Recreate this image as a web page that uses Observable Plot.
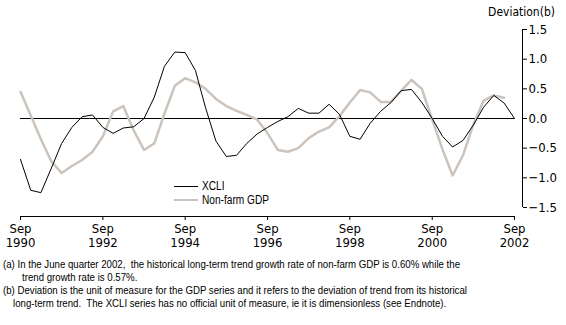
<!DOCTYPE html>
<html>
<head>
<meta charset="utf-8">
<script src="https://cdn.jsdelivr.net/npm/d3@7"></script>
<script src="https://cdn.jsdelivr.net/npm/@observablehq/plot@0.6"></script>
<style>
  html, body { margin: 0; padding: 0; background: #fff; }
  #wrap { position: relative; width: 566px; height: 325px; overflow: hidden; }
  #chart { position: absolute; left: 0; top: 0; }
  .ttl { position: absolute; top: 5px; right: 11px; font: 12px "DejaVu Sans Condensed", "DejaVu Sans", sans-serif; font-stretch: condensed; color: #000; }
  .legend { position: absolute; left: 174px; font: 12px "Liberation Sans", Arial, sans-serif; color: #000; display: flex; align-items: center; white-space: nowrap; }
  .legend .sw { width: 24px; margin-right: 4px; }
  .legend .lt { display: inline-block; transform-origin: 0 50%; }
  .note { position: absolute; left: 3px; font: 11px "Liberation Sans", Arial, sans-serif; color: #000; white-space: nowrap; line-height: 13px; transform-origin: 0 0; }
</style>
</head>
<body>
<div id="wrap">
  <div id="chart"></div>
</div>
<script>
// ---- data (quarterly, Sep 1990 .. Sep 2002) ----
const startQuarter = "1990-09-01";
const xcli = [
  -0.69, -1.21, -1.25, -0.84, -0.42, -0.15, 0.03, 0.06,
  -0.15, -0.25, -0.16, -0.14, 0.00, 0.36, 0.88, 1.12,
  1.11, 0.81, 0.18, -0.38, -0.64, -0.62, -0.42, -0.26,
  -0.15, -0.05, 0.03, 0.17, 0.09, 0.09, 0.24, 0.07,
  -0.30, -0.35, -0.08, 0.12, 0.27, 0.47, 0.49, 0.27,
  0.00, -0.30, -0.48, -0.37, -0.11, 0.19, 0.39, 0.26,
  0.00
];
const nonFarmGdp = [
  0.45, 0.05, -0.35, -0.72, -0.92, -0.80, -0.70, -0.56,
  -0.30, 0.12, 0.21, -0.20, -0.53, -0.42, 0.08, 0.55,
  0.68, 0.61, 0.50, 0.33, 0.21, 0.13, 0.06, -0.02,
  -0.25, -0.53, -0.56, -0.50, -0.33, -0.22, -0.15, 0.04,
  0.27, 0.48, 0.44, 0.28, 0.28, 0.47, 0.65, 0.50,
  -0.02, -0.52, -0.96, -0.62, -0.10, 0.30, 0.39, 0.35
];
const xTickYears = [1990, 1992, 1994, 1996, 1998, 2000, 2002];
const yTicks = [-1.5, -1.0, -0.5, 0.0, 0.5, 1.0, 1.5];
const seriesNames = ["XCLI", "Non-farm GDP"];
const yTitle = "Deviation(b)";
const notes = [
  "(a) In the June quarter 2002,&nbsp; the historical long-term trend growth rate of non-farm GDP is 0.60% while the",
  "trend growth rate is 0.57%.",
  "(b) Deviation is the unit of measure for the GDP series and it refers to the deviation of trend from its historical",
  "long-term trend.&nbsp; The XCLI series has no official unit of measure, ie it is dimensionless (see Endnote)."
];

// ---- build ----
const start = new Date(startQuarter + "T00:00:00Z");
const q = i => d3.utcMonth.offset(start, 3 * i);
const xcliData = xcli.map((v, i) => ({date: q(i), value: v}));
const gdpData = nonFarmGdp.map((v, i) => ({date: q(i), value: v}));
const xStart = q(0), xEnd = q(xcli.length - 1);
const xTicks = xTickYears.map(y => new Date(Date.UTC(y, 8, 1)));

const gdpColor = "#ccc4bc";
const tickFont = '"DejaVu Sans Condensed", "DejaVu Sans", sans-serif';

const chart = Plot.plot({
  width: 566,
  height: 255,
  marginLeft: 20,
  marginRight: 44,
  marginTop: 29,
  marginBottom: 39,
  style: {fontFamily: tickFont, fontSize: "13px", color: "#000", background: "transparent", fontStretch: "condensed", fontWeight: "normal"},
  x: {type: "utc", domain: [xStart, xEnd], insetRight: 8},
  y: {domain: [-1.5, 1.5], insetBottom: 9},
  marks: [
    Plot.ruleY([0], {x1: () => xStart, x2: () => xEnd, stroke: "#000", strokeWidth: 1}),
    Plot.lineY(gdpData, {x: "date", y: "value", stroke: gdpColor, strokeWidth: 2.5}),
    Plot.lineY(xcliData, {x: "date", y: "value", stroke: "#000", strokeWidth: 1}),
    Plot.ruleY([-1.5], {x1: () => xStart, x2: () => xEnd, dy: 9, stroke: "#000"}),
    Plot.ruleX([xEnd], {y1: () => -1.5, y2: () => 1.5, dx: 8, stroke: "#000"}),
    Plot.axisX({ticks: xTicks, tickFormat: d => `Sep\n${d.getUTCFullYear()}`, tickSize: 4, tickPadding: 3, label: null, lineHeight: 1.05}),
    Plot.axisY({anchor: "right", ticks: yTicks, tickFormat: ".1f", tickSize: 4, tickPadding: 2, label: null})
  ]
});
document.getElementById("chart").appendChild(chart);

const wrap = document.getElementById("wrap");
const t = document.createElement("div");
t.className = "ttl"; t.textContent = yTitle; wrap.appendChild(t);

const legendTexts = [];
[[seriesNames[0], "#000", 1, 179], [seriesNames[1], gdpColor, 2.5, 193]].forEach(([name, col, w, top]) => {
  const d = document.createElement("div");
  d.className = "legend"; d.style.top = top + "px";
  d.innerHTML = `<span class="sw" style="border-top:${w}px solid ${col}"></span><span class="lt">${name}</span>`;
  wrap.appendChild(d);
  legendTexts.push(d.querySelector(".lt"));
});
// narrow the legend text so "Non-farm GDP" spans about 67px
const lsc = 67 / legendTexts[1].getBoundingClientRect().width;
legendTexts.forEach(s => s.style.transform = `scaleX(${lsc})`);

const noteTops = [258, 271, 284, 297];
const noteIndent = [0, 19, 0, 10];
const noteEls = notes.map((txt, i) => {
  const d = document.createElement("div");
  d.className = "note";
  d.style.top = noteTops[i] + "px";
  d.style.left = (3 + noteIndent[i]) + "px";
  d.innerHTML = txt;
  wrap.appendChild(d);
  return d;
});
// narrow footnotes so the first line spans about 457px
const nsc = 457 / noteEls[0].getBoundingClientRect().width;
noteEls.forEach(d => d.style.transform = `scaleX(${nsc})`);
</script>
</body>
</html>
